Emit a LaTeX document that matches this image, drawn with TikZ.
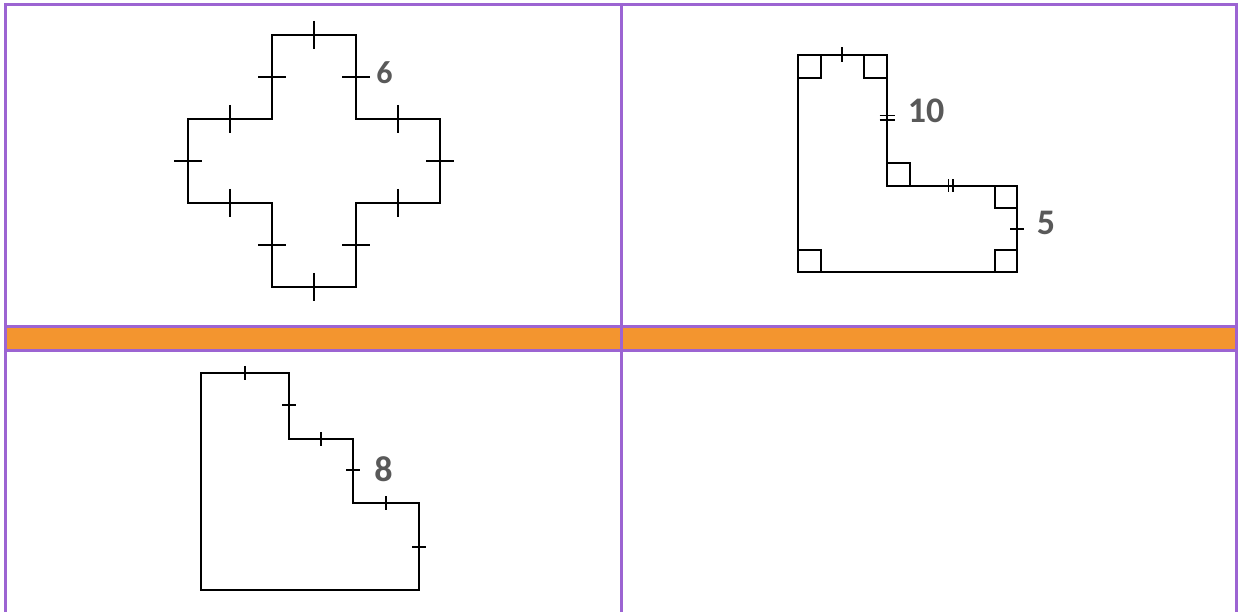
\documentclass[tikz,border=0pt]{standalone}
\usepackage{fontspec}
\setmainfont{Carlito}
\definecolor{gridpurple}{HTML}{9C64D2}
\definecolor{bandorange}{HTML}{F3952F}
\definecolor{labelgray}{HTML}{595959}

\begin{document}
\begin{tikzpicture}[x=1pt,y=-1pt,
  outline/.style={line width=1.7pt,line join=miter},
  hashline/.style={line width=1.5pt},
  grid/.style={draw=gridpurple,line width=2.6pt},
  lbl/.style={text=labelgray,font=\bfseries\fontsize{36}{36}\selectfont,inner sep=0pt},
  lblsmall/.style={lbl,font=\bfseries\fontsize{32}{32}\selectfont}]
\useasboundingbox (0,0) rectangle (1240,612);

% table
\fill[bandorange] (5.5,326.3) rectangle (1236.3,350.7);
\draw[grid] (5.5,612) -- (5.5,4.3) -- (1236.3,4.3) -- (1236.3,612);
\draw[grid] (621.3,4.3) -- (621.3,612);
\draw[grid] (5.5,326.3) -- (1236.3,326.3);
\draw[grid] (5.5,350.7) -- (1236.3,350.7);

% cross
\draw[outline] (272,35) -- (356,35) -- (356,119) -- (440,119) -- (440,203)
  -- (356,203) -- (356,287) -- (272,287) -- (272,203) -- (188,203)
  -- (188,119) -- (272,119) -- cycle;
\foreach \x/\y in {314/35,230/119,398/119,230/203,398/203,314/287}
  \draw[hashline] (\x,\y-14) -- (\x,\y+14);
\foreach \x/\y in {272/77,356/77,188/161,440/161,272/245,356/245}
  \draw[hashline] (\x-14,\y) -- (\x+14,\y);
\node[lblsmall] (six) at (384.5,72.7) {6};

% L shape
\draw[outline] (798,55) -- (887,55) -- (887,186) -- (1017,186) -- (1017,272)
  -- (798,272) -- cycle;
\draw[hashline] (798,55) rectangle (821,78);
\draw[hashline] (864,55) rectangle (887,78);
\draw[hashline] (887,186) rectangle (910,163);
\draw[hashline] (995,186) rectangle (1017,208);
\draw[hashline] (798,272) rectangle (821,250);
\draw[hashline] (995,272) rectangle (1017,250);
\draw[hashline] (842,47.5) -- (842,62.5);
\foreach \y in {115.5,120}
  \draw[hashline] (879.5,\y) -- (894.5,\y);
\foreach \x in {948.5,953}
  \draw[hashline] (\x,179.5) -- (\x,192.5);
\draw[hashline] (1010,229) -- (1024,229);
\node[lbl] (ten) at (926,110.7) {10};
\node[lbl] (five) at (1046,223.3) {5};

% staircase
\draw[outline] (201,373) -- (289,373) -- (289,439) -- (353,439) -- (353,503)
  -- (419,503) -- (419,590) -- (201,590) -- cycle;
\foreach \x/\y in {245/373,321/439,386/503}
  \draw[hashline] (\x,\y-7) -- (\x,\y+7);
\foreach \x/\y in {289/405,353/470,419/547}
  \draw[hashline] (\x-7,\y) -- (\x+7,\y);
\node[lbl] (eight) at (383.5,469) {8};
\end{tikzpicture}
\end{document}
